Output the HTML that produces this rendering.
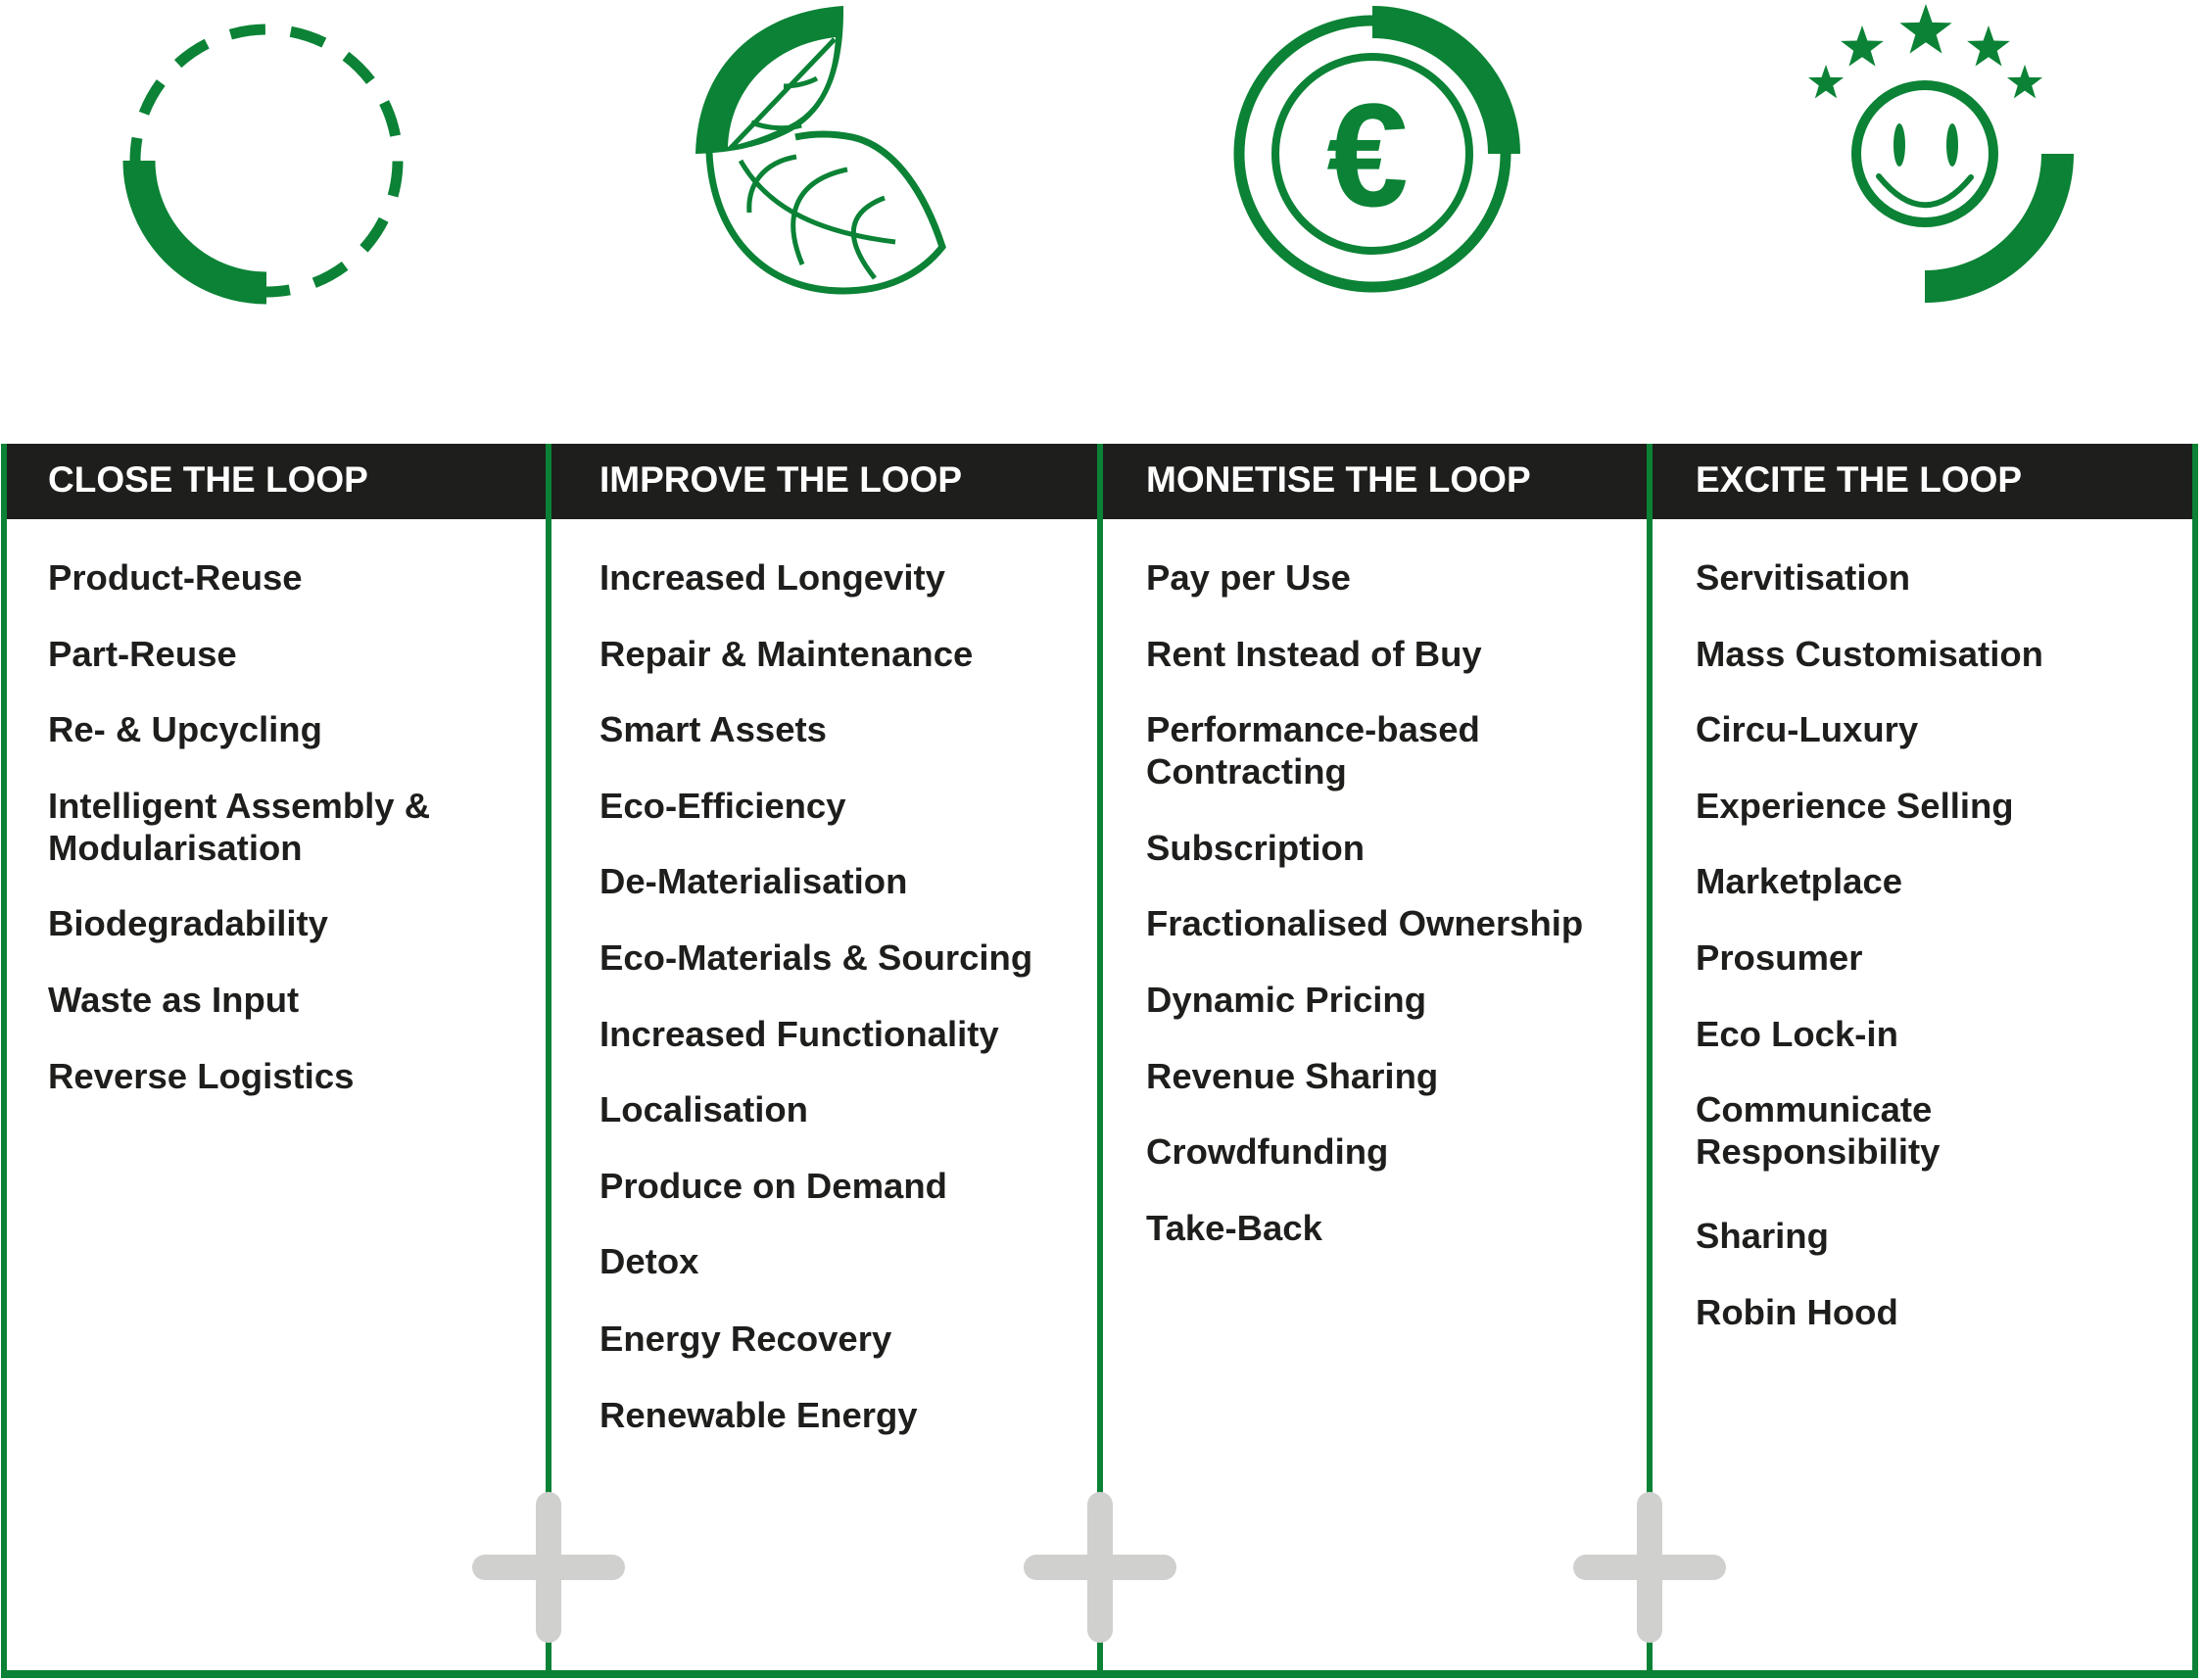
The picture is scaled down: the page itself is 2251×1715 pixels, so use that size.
<!DOCTYPE html>
<html><head><meta charset="utf-8"><style>
html,body{margin:0;padding:0;background:#fff;}
svg{display:block;}
text{font-family:"Liberation Sans",sans-serif;font-weight:bold;}
</style></head><body>
<svg width="2251" height="1715" viewBox="0 0 2251 1715" xmlns="http://www.w3.org/2000/svg">
<!-- Icon 1: close the loop -->
<g fill="none" stroke="#0b8235">
  <circle cx="272" cy="164" r="134" stroke-width="11" stroke-dasharray="36 26" transform="rotate(95 272 164)"/>
  <path d="M142,164 A130,130 0 0 0 272,294" stroke-width="33"/>
</g>
<!-- Icon 2: leaves -->
<g>
  <path d="M710,157 C712,70 770,12 861,6 C862,80 840,120 800,138 C775,150 745,156 710,157 Z" fill="#0b8235"/>
  <path d="M743,150 C745,90 790,45 853,38 C850,90 830,118 800,130 C780,140 760,146 743,150 Z" fill="#fff"/>
  <g fill="none" stroke="#0b8235" stroke-width="5">
    <path d="M745,152 L852,40"/>
    <path d="M800,88 C812,88 825,85 834,80"/>
    <path d="M767,125 C785,132 805,132 818,128"/>
    <path d="M724,156 C728,240 780,297 861,297 C905,297 940,280 962,252 C945,200 915,150 870,140 C850,136 830,136 812,140" stroke-width="7"/>
    <path d="M756,164 C785,215 840,238 914,247"/>
    <path d="M765,217 C763,190 778,166 813,160"/>
    <path d="M819,270 C800,225 808,185 865,173"/>
    <path d="M893,284 C870,255 855,220 903,202"/>
  </g>
</g>
<!-- Icon 3: euro -->
<g fill="none" stroke="#0b8235">
  <circle cx="1401" cy="157" r="136" stroke-width="11"/>
  <circle cx="1401" cy="157" r="99" stroke-width="8"/>
  <path d="M1401,22.5 A134.5,134.5 0 0 1 1535.5,157" stroke-width="33"/>
  <text x="1396" y="210" font-size="150" fill="#0b8235" stroke="none" text-anchor="middle">€</text>
</g>
<!-- Icon 4: smiley -->
<g>
  <circle cx="1965" cy="157" r="70" fill="none" stroke="#0b8235" stroke-width="10"/>
  <ellipse cx="1939" cy="148" rx="6" ry="22" fill="#0b8235"/>
  <ellipse cx="1993" cy="148" rx="6" ry="22" fill="#0b8235"/>
  <path d="M1918,180 Q1965,238 2012,181" fill="none" stroke="#0b8235" stroke-width="6" stroke-linecap="round"/>
  <path d="M2100.5,157 A135.5,135.5 0 0 1 1965,292.5" fill="none" stroke="#0b8235" stroke-width="33"/>
  <g fill="#0b8235">
    <polygon points="0,-1 0.235,-0.324 0.951,-0.309 0.38,0.124 0.588,0.809 0,0.4 -0.588,0.809 -0.38,0.124 -0.951,-0.309 -0.235,-0.324" transform="translate(1966,32) scale(28)"/>
    <polygon points="0,-1 0.235,-0.324 0.951,-0.309 0.38,0.124 0.588,0.809 0,0.4 -0.588,0.809 -0.38,0.124 -0.951,-0.309 -0.235,-0.324" transform="translate(1901,49) scale(23)"/>
    <polygon points="0,-1 0.235,-0.324 0.951,-0.309 0.38,0.124 0.588,0.809 0,0.4 -0.588,0.809 -0.38,0.124 -0.951,-0.309 -0.235,-0.324" transform="translate(2030,49) scale(23)"/>
    <polygon points="0,-1 0.235,-0.324 0.951,-0.309 0.38,0.124 0.588,0.809 0,0.4 -0.588,0.809 -0.38,0.124 -0.951,-0.309 -0.235,-0.324" transform="translate(1864,85) scale(19)"/>
    <polygon points="0,-1 0.235,-0.324 0.951,-0.309 0.38,0.124 0.588,0.809 0,0.4 -0.588,0.809 -0.38,0.124 -0.951,-0.309 -0.235,-0.324" transform="translate(2067,85) scale(19)"/>
  </g>
</g>
<!-- Header band -->
<rect x="4" y="453" width="2240" height="77" fill="#1e1e1c"/>
<!-- Borders -->
<g fill="#0b8235">
  <rect x="1" y="453" width="6" height="1260"/>
  <rect x="2238" y="453" width="6" height="1260"/>
  <rect x="557" y="453" width="6" height="1260"/>
  <rect x="1120" y="453" width="6" height="1260"/>
  <rect x="1681" y="453" width="6" height="1260"/>
  <rect x="1" y="1705" width="2243" height="8"/>
</g>
<!-- Plus signs -->
<g fill="#d0d0cf">
  <rect x="547" y="1523" width="26" height="154" rx="13"/>
  <rect x="482" y="1587" width="156" height="26" rx="13"/>
  <rect x="1110" y="1523" width="26" height="154" rx="13"/>
  <rect x="1045" y="1587" width="156" height="26" rx="13"/>
  <rect x="1671" y="1523" width="26" height="154" rx="13"/>
  <rect x="1606" y="1587" width="156" height="26" rx="13"/>
</g>
<!-- Headers -->
<g fill="#ffffff" font-size="37" letter-spacing="0">
  <text x="49" y="502">CLOSE THE LOOP</text>
  <text x="612" y="502">IMPROVE THE LOOP</text>
  <text x="1170" y="502">MONETISE THE LOOP</text>
  <text x="1731" y="502">EXCITE THE LOOP</text>
</g>
<!-- Items -->
<g fill="#1e1e1c" font-size="36.5">
  <text x="49" y="602">Product-Reuse</text>
  <text x="49" y="680">Part-Reuse</text>
  <text x="49" y="757">Re- &amp; Upcycling</text>
  <text x="49" y="835">Intelligent Assembly &amp;</text>
  <text x="49" y="878">Modularisation</text>
  <text x="49" y="955">Biodegradability</text>
  <text x="49" y="1033">Waste as Input</text>
  <text x="49" y="1111">Reverse Logistics</text>
</g>
<g fill="#1e1e1c" font-size="36.5">
  <text x="612" y="602">Increased Longevity</text>
  <text x="612" y="680">Repair &amp; Maintenance</text>
  <text x="612" y="757">Smart Assets</text>
  <text x="612" y="835">Eco-Efficiency</text>
  <text x="612" y="912">De-Materialisation</text>
  <text x="612" y="990">Eco-Materials &amp; Sourcing</text>
  <text x="612" y="1068">Increased Functionality</text>
  <text x="612" y="1145">Localisation</text>
  <text x="612" y="1223">Produce on Demand</text>
  <text x="612" y="1300">Detox</text>
  <text x="612" y="1379">Energy Recovery</text>
  <text x="612" y="1457">Renewable Energy</text>
</g>
<g fill="#1e1e1c" font-size="36.5">
  <text x="1170" y="602">Pay per Use</text>
  <text x="1170" y="680">Rent Instead of Buy</text>
  <text x="1170" y="757">Performance-based</text>
  <text x="1170" y="800">Contracting</text>
  <text x="1170" y="878">Subscription</text>
  <text x="1170" y="955">Fractionalised Ownership</text>
  <text x="1170" y="1033">Dynamic Pricing</text>
  <text x="1170" y="1111">Revenue Sharing</text>
  <text x="1170" y="1188">Crowdfunding</text>
  <text x="1170" y="1266">Take-Back</text>
</g>
<g fill="#1e1e1c" font-size="36.5">
  <text x="1731" y="602">Servitisation</text>
  <text x="1731" y="680">Mass Customisation</text>
  <text x="1731" y="757">Circu-Luxury</text>
  <text x="1731" y="835">Experience Selling</text>
  <text x="1731" y="912">Marketplace</text>
  <text x="1731" y="990">Prosumer</text>
  <text x="1731" y="1068">Eco Lock-in</text>
  <text x="1731" y="1145">Communicate</text>
  <text x="1731" y="1188">Responsibility</text>
  <text x="1731" y="1274">Sharing</text>
  <text x="1731" y="1352">Robin Hood</text>
</g>
</svg>
</body></html>
